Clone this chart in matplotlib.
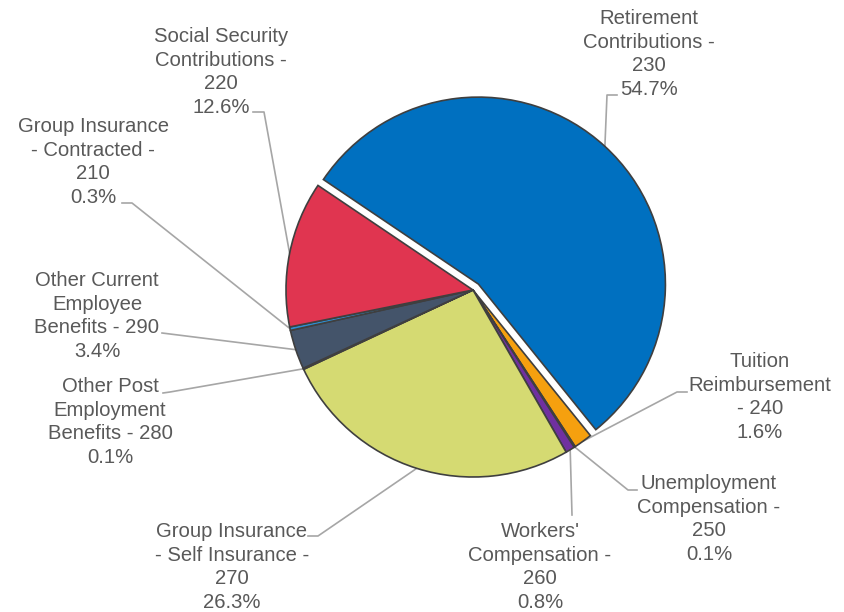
import numpy as np
import matplotlib.pyplot as plt

plt.rcParams['font.family'] = ['Liberation Sans', 'DejaVu Sans']

# benefit categories, clockwise from the top
names = ['Retirement\nContributions -\n', 'Tuition\nReimbursement\n- ',
         'Unemployment\nCompensation -\n', "Workers'\nCompensation -\n",
         'Group Insurance\n- Self Insurance -\n', 'Other Post\nEmployment\nBenefits - ',
         'Other Current\nEmployee\nBenefits - ', 'Group Insurance\n- Contracted -\n',
         'Social Security\nContributions -\n']
codes = ['230', '240', '250', '260', '270', '280', '290', '210', '220']
shares = [54.7, 1.6, 0.1, 0.8, 26.3, 0.1, 3.4, 0.3, 12.6]
colors = ['#0070C0', '#F5A00F', '#A5A5A5', '#7030A0', '#D5DA72',
          '#5B9BD5', '#44546A', '#2E8FD0', '#E03550']
# pie() takes explode in data units, not as a fraction of the radius
explode = [8, 0, 0, 0, 0, 0, 0, 0, 0]

# label placement (pixel coords): text centre, line end at the text, elbow point
label_pos = [(649, 54), (760, 397), (709, 519), (540, 567), (232, 567),
             (110, 422), (97, 316), (93, 162), (221, 72)]
line_end = [(617, 95), (687, 392), (637, 490), (572, 515), (308, 536),
            (163, 393), (162, 333), (122, 203), (253, 112)]
line_elbow = [(607, 95), (677, 392), (628, 490), (572, 515), (318, 536),
              (170, 392), (170, 334), (132, 203), (264, 112)]

fig = plt.figure(figsize=(8.44, 6.12), dpi=100)
ax = fig.add_axes([0, 0, 1, 1])

center = (473, 290)
radius = 187
wedges, _ = ax.pie(shares, colors=colors, explode=explode, center=center, radius=radius,
                   startangle=-146, counterclock=True,
                   wedgeprops=dict(edgecolor='#3F3F3F', linewidth=1.2))

ax.set_xlim(0, 844)
ax.set_ylim(612, 0)
ax.set_aspect('equal')
ax.axis('off')

for w, name, code, pct, (tx, ty), (ex, ey), (bx, by) in zip(
        wedges, names, codes, shares, label_pos, line_end, line_elbow):
    mid = np.deg2rad((w.theta1 + w.theta2) / 2)
    cx, cy = w.center
    px, py = cx + w.r * np.cos(mid), cy + w.r * np.sin(mid)
    ax.plot([px, bx, ex], [py, by, ey], color='#A6A6A6', lw=1.2, zorder=0)
    ax.text(tx, ty, f'{name}{code}\n{pct}%', ha='center', va='center',
            fontsize=14.6, color='#595959', linespacing=1.33)

fig.savefig('out.png', dpi=100)
